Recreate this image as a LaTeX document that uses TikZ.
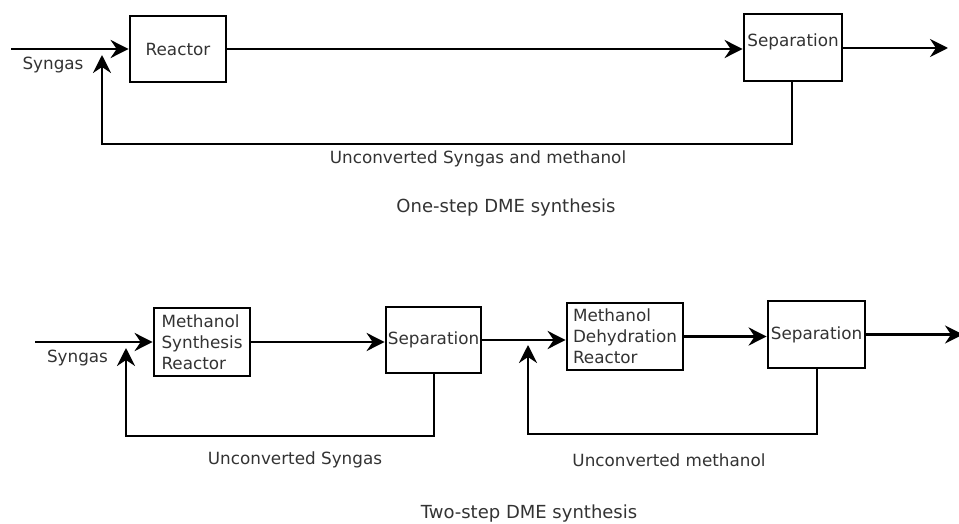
\documentclass[tikz,border=0pt]{standalone}
\usepackage{fontspec}
\setmainfont{DejaVu Sans}
\usetikzlibrary{arrows.meta}
\begin{document}
\begin{tikzpicture}[x=1pt,y=-1pt,
  blk/.style={draw=black, line width=2.7pt, inner sep=0pt, text=black!80, font=\fontsize{16.8}{21}\selectfont},
  flow/.style={line width=2.7pt, -{Stealth[length=18pt,width=18pt,inset=6pt]}},
  lbl/.style={text=black!80, font=\fontsize{16.8}{21}\selectfont, inner sep=0pt},
  captxt/.style={text=black!80, font=\fontsize{18}{22}\selectfont, inner sep=0pt}]
\useasboundingbox (0,0) rectangle (959,524);
\fill[white] (0,0) rectangle (959,524);

% ---------- One-step ----------
\node[blk, minimum width=96pt, minimum height=66pt] (reactor) at (178,49) {Reactor};
\node[blk, minimum width=98pt, minimum height=67pt] (sepA) at (793,47.5) {};
\node[lbl] (sepAt) at (793,42) {Separation};
\coordinate (inA) at (11,49);
\coordinate (outA) at (948,48);
\coordinate (rA1) at (792,144);
\coordinate (rAtip) at (102,55);
\draw[flow] (inA) -- (reactor.west);
\draw[flow] (reactor.east) -- (reactor.east -| sepA.west);
\draw[flow] (sepA.east |- outA) -- (outA);
\draw[flow] (sepA.south -| rA1) -- (rA1) -| (rAtip);
\node[lbl] (syngasA) at (53,65) {Syngas};
\node[lbl] (unconvA) at (478,159) {Unconverted Syngas and methanol};
\node[captxt] (capA) at (506,208) {One-step DME synthesis};

% ---------- Two-step ----------
\node[blk, minimum width=96pt, minimum height=68pt, align=left] (msr) at (202,342) {Methanol\\Synthesis\\Reactor};
\node[blk, minimum width=95pt, minimum height=66pt] (sepB) at (433.5,340) {Separation};
\node[blk, minimum width=116pt, minimum height=67pt, align=left] (mdr) at (625,336.5) {Methanol\\Dehydration\\Reactor};
\node[blk, minimum width=97pt, minimum height=67pt] (sepC) at (816.5,334.5) {Separation};
\coordinate (inB) at (35,342);
\coordinate (outC) at (963,334);
\coordinate (rB1) at (434,436);
\coordinate (rBtip) at (126,348);
\coordinate (rC1) at (817,434);
\coordinate (rCtip) at (528,345);
\draw[flow] (inB) -- (msr.west);
\draw[flow] (msr.east) -- (msr.east -| sepB.west);
\draw[flow] (sepB.east) -- (sepB.east -| mdr.west);
\draw[flow] (mdr.east) -- (mdr.east -| sepC.west);
\draw[flow] (sepC.east) -- (sepC.east -| outC);
\draw[flow] (sepB.south -| rB1) -- (rB1) -| (rBtip);
\draw[flow] (sepC.south -| rC1) -- (rC1) -| (rCtip);
\node[lbl] (syngasB) at (77.5,358) {Syngas};
\node[lbl] (unconvB) at (295,460) {Unconverted Syngas};
\node[lbl] (unconvC) at (669,460) {Unconverted methanol};
\node[captxt] (capB) at (529,514) {Two-step DME synthesis};
\end{tikzpicture}
\end{document}
